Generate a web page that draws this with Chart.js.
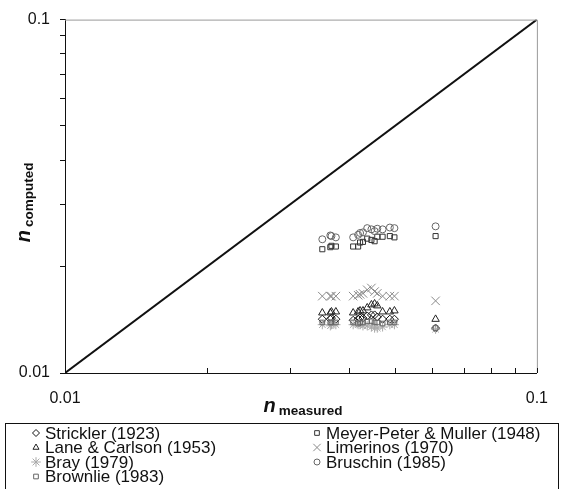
<!DOCTYPE html>
<html>
<head>
<meta charset="utf-8">
<script src="https://cdn.jsdelivr.net/npm/chart.js@4"></script>
<style>
html,body{margin:0;padding:0;background:#fff;}
#wrap{position:relative;width:564px;height:489px;}
</style>
</head>
<body>
<div id="wrap"><canvas id="c" width="564" height="489"></canvas></div>
<script>
// Measured n (x) shared by all methods
const nMeasured = [0.0351, 0.0365, 0.0367, 0.0375, 0.0408, 0.0418, 0.0422, 0.0428, 0.0437, 0.0446, 0.0453, 0.0459, 0.0471, 0.0488, 0.0499, 0.0610];
const strickler  = [0.0142, 0.0142, 0.0143, 0.0142, 0.0141, 0.0142, 0.0143, 0.0143, 0.0145, 0.0146, 0.0146, 0.0144, 0.0142, 0.0142, 0.0142, 0.0134];
const meyerPeter = [0.0224, 0.0227, 0.0229, 0.0228, 0.0228, 0.0228, 0.0234, 0.0235, 0.0240, 0.0238, 0.0236, 0.0243, 0.0243, 0.0244, 0.0242, 0.0244];
const laneCarlson= [0.0148, 0.0148, 0.0149, 0.0149, 0.0148, 0.0149, 0.0150, 0.0150, 0.0153, 0.0156, 0.0157, 0.0155, 0.0149, 0.0149, 0.0150, 0.0142];
const limerinos  = [0.0165, 0.0165, 0.0165, 0.0165, 0.0165, 0.0166, 0.0167, 0.0168, 0.0172, 0.0174, 0.0170, 0.0168, 0.0165, 0.0165, 0.0165, 0.0160];
const bray       = [0.0137, 0.0136, 0.0137, 0.0137, 0.0137, 0.0137, 0.0137, 0.0136, 0.0136, 0.0135, 0.0134, 0.0134, 0.0135, 0.0137, 0.0137, 0.0133];
const bruschin   = [0.0239, 0.0245, 0.0244, 0.0242, 0.0242, 0.0246, 0.0249, 0.0250, 0.0257, 0.0255, 0.0252, 0.0256, 0.0255, 0.0258, 0.0257, 0.0260];
const brownlie   = [0.0139, 0.0139, 0.0139, 0.0139, 0.0139, 0.0138, 0.0139, 0.0139, 0.0140, 0.0140, 0.0139, 0.0139, 0.0138, 0.0139, 0.0139, 0.0134];
const seriesNames = ["Strickler (1923)", "Meyer-Peter & Muller (1948)", "Lane & Carlson (1953)", "Limerinos (1970)", "Bray (1979)", "Bruschin (1985)", "Brownlie (1983)"];
const axisMin = 0.01, axisMax = 0.1;
const tickValues = [0.01, 0.02, 0.03, 0.04, 0.05, 0.06, 0.07, 0.08, 0.09, 0.1];
const tickLabels = {"0.01": "0.01", "0.1": "0.1"};
const perfectLine = [axisMin, axisMax];

const seriesValues = [strickler, meyerPeter, laneCarlson, limerinos, bray, bruschin, brownlie];
const styles = [
  {pointStyle:'rectRot', color:'#111', r:4, lr:3.5},
  {pointStyle:'rect', color:'#333', r:3.6, lr:3.3},
  {pointStyle:'triangle', color:'#222', r:4.3, lr:3.5},
  {pointStyle:'crossRot', color:'#8a8a8a', r:6, lr:5.2},
  {pointStyle:'star', color:'#aaaaaa', r:4.6, lr:4.8},
  {pointStyle:'circle', color:'#666', r:3.5, lr:3},
  {pointStyle:'rect', color:'#666', r:3.3, lr:3.3}
];

const datasets = seriesValues.map((vals, i) => ({
  type:'scatter',
  label: seriesNames[i],
  data: nMeasured.map((x, k) => ({x: x, y: vals[k]})),
  pointStyle: styles[i].pointStyle,
  pointRadius: styles[i].r,
  pointBorderWidth: 1,
  borderColor: styles[i].color,
  backgroundColor: 'rgba(0,0,0,0)',
  order: 20 - i
}));
datasets.push({
  type:'line',
  label:'1:1',
  data: perfectLine.map(v => ({x:v, y:v})),
  borderColor:'#111',
  borderWidth:2,
  pointRadius:0,
  fill:false,
  order: 0
});

const FONT = '"Liberation Sans", Arial, sans-serif';

const decor = {
  id:'decor',
  afterDraw(chart){
    const ctx = chart.ctx, a = chart.chartArea;
    const xs = chart.scales.x;
    ctx.save();
    // grey top and right frame
    ctx.strokeStyle = '#999'; ctx.lineWidth = 1;
    ctx.beginPath();
    ctx.moveTo(a.left, a.top + 0.5); ctx.lineTo(a.right + 0.5, a.top + 0.5); ctx.lineTo(a.right + 0.5, a.bottom);
    ctx.stroke();
    // inward x ticks
    ctx.strokeStyle = '#111';
    xs.ticks.forEach(t => {
      const px = Math.round(xs.getPixelForValue(t.value)) + 0.5;
      ctx.beginPath(); ctx.moveTo(px, a.bottom); ctx.lineTo(px, a.bottom - 5); ctx.stroke();
    });
    // x title
    ctx.fillStyle = '#111';
    ctx.textBaseline = 'alphabetic';
    ctx.textAlign = 'left';
    ctx.font = 'bold italic 20px ' + FONT;
    const nw = ctx.measureText('n').width;
    ctx.font = 'bold 13.5px ' + FONT;
    const mw = ctx.measureText('measured').width;
    const tw = nw + 3 + mw;
    const nx = (a.left + a.right) / 2 - tw / 2 + 2, ny = 412;
    ctx.font = 'bold italic 20px ' + FONT;
    ctx.fillText('n', nx, ny);
    ctx.font = 'bold 13.5px ' + FONT;
    ctx.fillText('measured', nx + nw + 3, ny + 3);
    // y title (rotated)
    ctx.save();
    ctx.font = 'bold 13.5px ' + FONT;
    const cw = ctx.measureText('computed').width;
    const tw2 = nw + 3 + cw;
    ctx.translate(30, (a.top + a.bottom) / 2 + 6 + tw2 / 2);
    ctx.rotate(-Math.PI/2);
    ctx.font = 'bold italic 20px ' + FONT;
    ctx.fillText('n', 0, 0);
    ctx.font = 'bold 13.5px ' + FONT;
    ctx.fillText('computed', nw + 3, 3);
    ctx.restore();
    // legend box
    ctx.strokeStyle = '#111'; ctx.lineWidth = 1;
    ctx.strokeRect(5.5, 423.5, 553, 80);
    ctx.font = '17px ' + FONT;
    ctx.textBaseline = 'middle';
    const colX = [36, 317], rowY = [433, 447.5, 462, 476.5];
    seriesNames.forEach((name, i) => {
      const col = i % 2, row = Math.floor(i / 2);
      const mx = colX[col], my = rowY[row];
      ctx.strokeStyle = styles[i].color;
      ctx.fillStyle = 'rgba(0,0,0,0)';
      ctx.lineWidth = 1;
      Chart.helpers.drawPoint(ctx, {pointStyle: styles[i].pointStyle, radius: styles[i].lr, rotation: 0, borderWidth: 1}, mx, my);
      ctx.fillStyle = '#111';
      ctx.fillText(name, mx + 9, my + 1);
    });
    ctx.restore();
  }
};

function setTicks(scale){ scale.ticks = tickValues.map(v => ({value: v})); }
function labelFor(v){ return tickLabels[String(Number(v.toPrecision(3)))] || ''; }

new Chart(document.getElementById('c'), {
  data: { datasets },
  options: {
    responsive:false,
    animation:false,
    layout:{padding:{left:0, top:15, right:21, bottom:0}},
    plugins:{legend:{display:false}, tooltip:{enabled:false}},
    scales:{
      x:{
        type:'logarithmic', min:axisMin, max:axisMax, position:'bottom',
        border:{display:true, color:'#111', width:1},
        grid:{drawOnChartArea:false, drawTicks:false},
        afterBuildTicks: setTicks,
        ticks:{autoSkip:false, maxRotation:0, padding:16, color:'#111',
          font:{family:FONT, size:16},
          callback:(v)=> labelFor(v)},
        afterFit:(s)=>{ s.height = 116; }
      },
      y:{
        type:'logarithmic', min:axisMin, max:axisMax,
        border:{display:true, color:'#111', width:1},
        grid:{drawOnChartArea:false, drawTicks:true, tickLength:5, color:'#111'},
        afterBuildTicks: setTicks,
        ticks:{autoSkip:false, padding:10, color:'#111',
          font:{family:FONT, size:16},
          callback:(v)=> labelFor(v)},
        afterFit:(s)=>{ s.width = 65; }
      }
    }
  },
  plugins:[decor]
});
</script>
</body>
</html>
